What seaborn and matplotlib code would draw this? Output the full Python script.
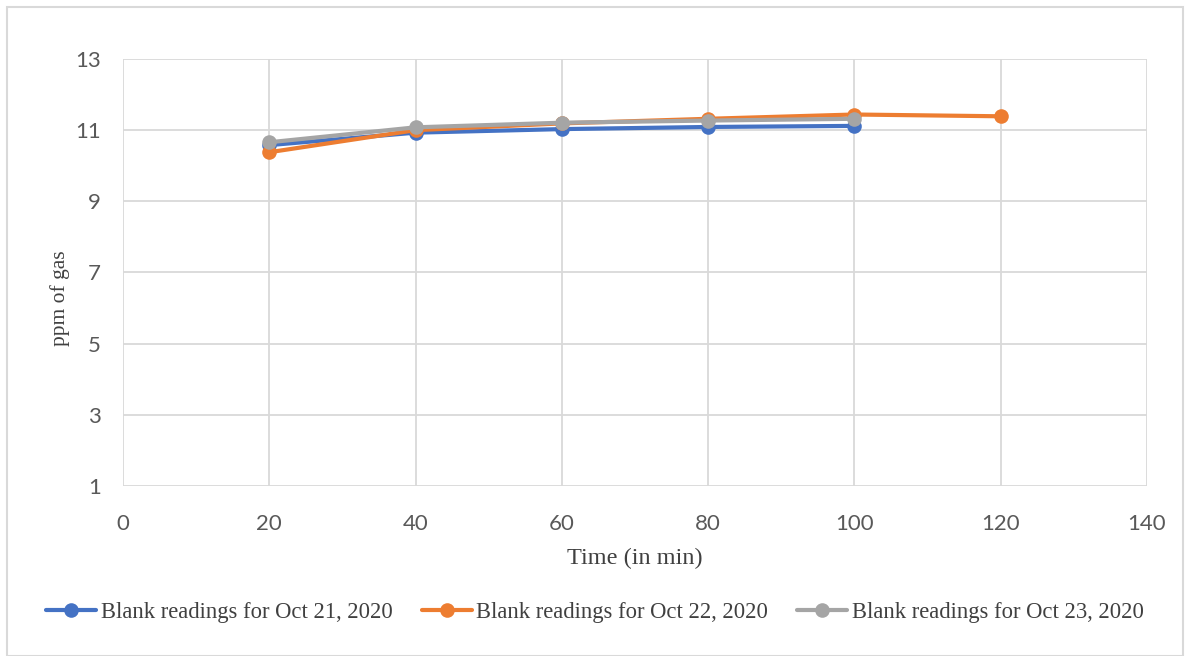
import matplotlib
matplotlib.use("Agg")
import matplotlib.pyplot as plt
import seaborn as sns
import pandas as pd
from matplotlib.patches import Rectangle

# Blank gas readings (ppm) taken every 20 minutes
time_oct21 = [20, 40, 60, 80, 100]
ppm_oct21 = [10.58, 10.93, 11.03, 11.09, 11.12]

time_oct22 = [20, 40, 60, 80, 100, 120]
ppm_oct22 = [10.38, 11.00, 11.19, 11.32, 11.44, 11.39]

time_oct23 = [20, 40, 60, 80, 100]
ppm_oct23 = [10.66, 11.08, 11.21, 11.27, 11.32]

series_names = [
    "Blank readings for Oct 21, 2020",
    "Blank readings for Oct 22, 2020",
    "Blank readings for Oct 23, 2020",
]
series_colors = ["#4472C4", "#ED7D31", "#A5A5A5"]

frames = []
for name, t, v in zip(series_names, [time_oct21, time_oct22, time_oct23],
                      [ppm_oct21, ppm_oct22, ppm_oct23]):
    frames.append(pd.DataFrame({"time": t, "ppm": v, "series": name}))
df = pd.concat(frames, ignore_index=True)

sns.set_style("white")

fig = plt.figure(figsize=(11.9, 6.56), dpi=100)
ax = fig.add_axes([123 / 1190, 1 - 486 / 656, (1147 - 123) / 1190, (486 - 59) / 656])

sns.lineplot(
    data=df, x="time", y="ppm", hue="series", hue_order=series_names,
    palette=series_colors, marker="o", markersize=10.5, markeredgewidth=0,
    linewidth=3, ax=ax, legend=True, sort=False,
)

ax.set_xlim(0, 140)
ax.set_ylim(1, 13)
ax.set_xticks(range(0, 141, 20))
ax.set_yticks(range(1, 14, 2))
ax.grid(True, color="#D9D9D9", linewidth=1.3)
ax.set_axisbelow(True)
for s in ax.spines.values():
    s.set_visible(False)
ax.tick_params(axis="both", length=0, labelsize=16, labelcolor="#595959")
ax.tick_params(axis="x", pad=20)
ax.tick_params(axis="y", pad=16)
for lbl in ax.get_xticklabels() + ax.get_yticklabels():
    lbl.set_family("Lato")

ax.set_xlabel("Time (in min)", family="Liberation Serif", fontsize=17.5,
              color="#404040", labelpad=10)
ax.set_ylabel("ppm of gas", family="Liberation Serif", fontsize=15.5,
              color="#404040")
ax.yaxis.set_label_coords(-0.0518, 0.44)

handles, labels = ax.get_legend_handles_labels()
if ax.get_legend() is not None:
    ax.get_legend().remove()
leg = fig.legend(handles, labels, loc="center", bbox_to_anchor=(0.5, 0.067),
                 ncol=3, frameon=False, handlelength=2.2, handletextpad=0.2,
                 columnspacing=1.3,
                 prop={"family": "Liberation Serif", "size": 16.3})
for t in leg.get_texts():
    t.set_color("#404040")

# Outer chart frame
fig.patches.append(Rectangle((7 / 1190, 0.0), 1176 / 1190, 1 - 7 / 656,
                             transform=fig.transFigure, fill=False,
                             edgecolor="#D9D9D9", linewidth=1.5))

fig.savefig("out.png", dpi=100)
